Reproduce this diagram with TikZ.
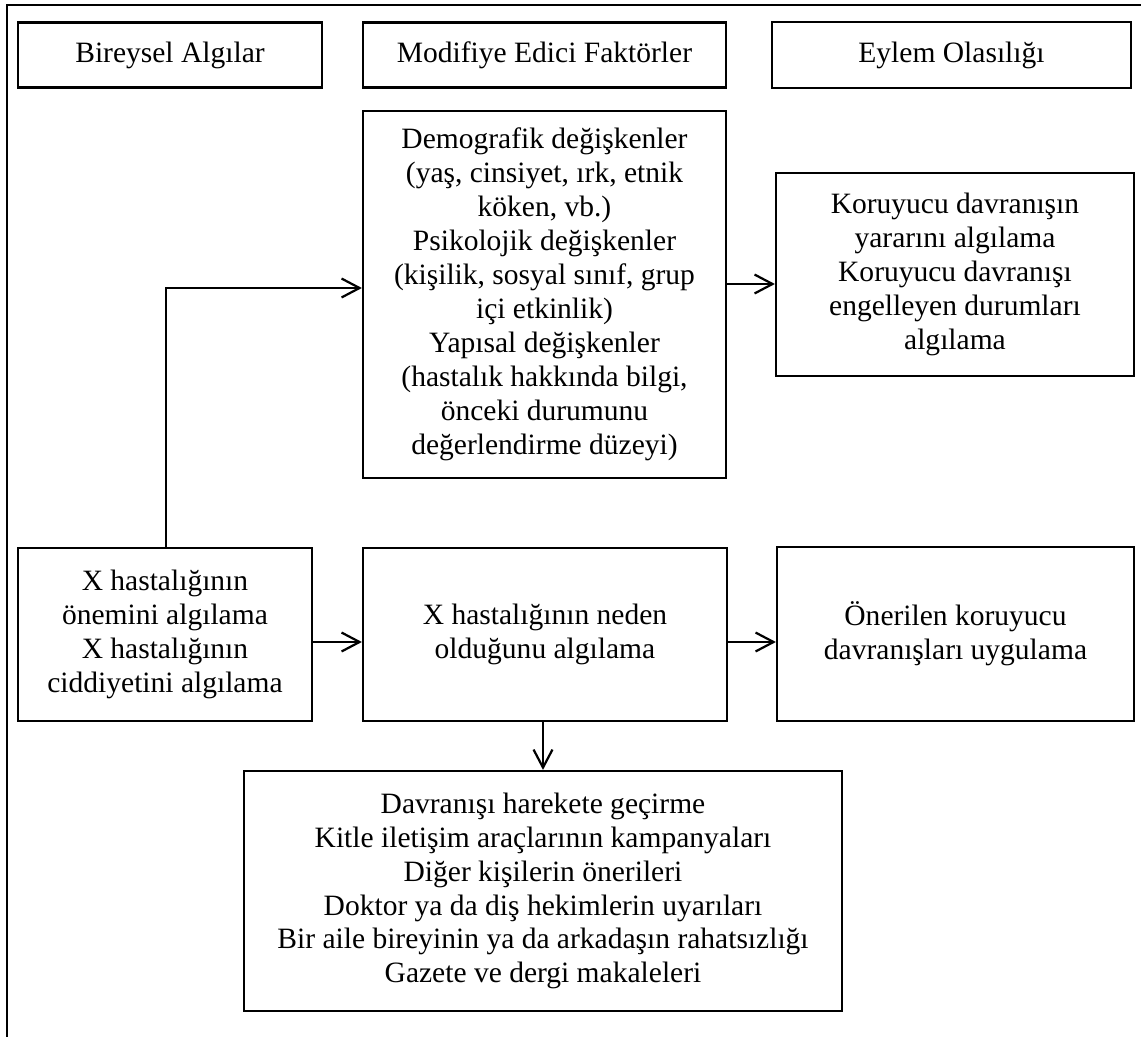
\documentclass[tikz,border=0pt]{standalone}
\usepackage{fontspec}
\setmainfont{Liberation Serif}
\usetikzlibrary{arrows.meta}
\def\u{0.4065pt}
\tikzset{
  box/.style={draw, line width=0.9pt, align=center, inner sep=0pt,
    font=\fontsize{12pt}{13.8pt}\selectfont},
  arr/.style={line width=0.9pt, -{Straight Barb[length=7.3pt,width=7.7pt,line width=0.9pt]}},
  frame/.style={line width=1.1pt}
}
\begin{document}
\begin{tikzpicture}[x=0.4065pt,y=-0.4065pt]
\useasboundingbox (0,0) rectangle (1141,1037);
\draw[frame] (1141,5) -- (7,5) -- (7,1037);

% header boxes
\node[box, minimum width=304*\u, minimum height=65*\u] (h1) at (170,55) {Bireysel Algılar};
\node[box, minimum width=363*\u, minimum height=65*\u] (h2) at (544.5,55) {Modifiye Edici Faktörler};
\node[box, minimum width=359*\u, minimum height=66*\u] (h3) at (951.5,55) {Eylem Olasılığı};

% middle column top
\node[box, minimum width=363*\u, minimum height=367*\u] (dem) at (544.5,294.5)
  {Demografik değişkenler\\(yaş, cinsiyet, ırk, etnik\\köken, vb.)\\Psikolojik değişkenler\\(kişilik, sosyal sınıf, grup\\içi etkinlik)\\Yapısal değişkenler\\(hastalık hakkında bilgi,\\önceki durumunu\\değerlendirme düzeyi)};
\node[box, minimum width=358*\u, minimum height=203*\u] (kor) at (955,274.5)
  {Koruyucu davranışın\\yararını algılama\\Koruyucu davranışı\\engelleyen durumları\\algılama};

% second row
\node[box, minimum width=294*\u, minimum height=173*\u] (onem) at (165,634.5)
  {X hastalığının\\önemini algılama\\X hastalığının\\ciddiyetini algılama};
\node[box, minimum width=364*\u, minimum height=173*\u] (neden) at (545,634.5)
  {X hastalığının neden\\olduğunu algılama};
\node[box, minimum width=357*\u, minimum height=174*\u] (oner) at (955.5,634)
  {Önerilen koruyucu\\davranışları uygulama};

% bottom
\node[box, minimum width=598*\u, minimum height=240*\u] (dav) at (543,891)
  {Davranışı harekete geçirme\\Kitle iletişim araçlarının kampanyaları\\Diğer kişilerin önerileri\\Doktor ya da diş hekimlerin uyarıları\\Bir aile bireyinin ya da arkadaşın rahatsızlığı\\Gazete ve dergi makaleleri};

% connectors
\coordinate (ya) at (0,288);
\coordinate (yb) at (0,284);
\coordinate (yc) at (0,642);
\coordinate (xa) at (166,0);
\coordinate (xb) at (543,0);
\draw[arr] (onem.north -| xa) -- (xa |- ya) -- (dem.west |- ya);
\draw[arr] (dem.east |- yb) -- (kor.west |- yb);
\draw[arr] (onem.east |- yc) -- (neden.west |- yc);
\draw[arr] (neden.east |- yc) -- (oner.west |- yc);
\draw[arr] (neden.south -| xb) -- (dav.north -| xb);
\end{tikzpicture}
\end{document}
